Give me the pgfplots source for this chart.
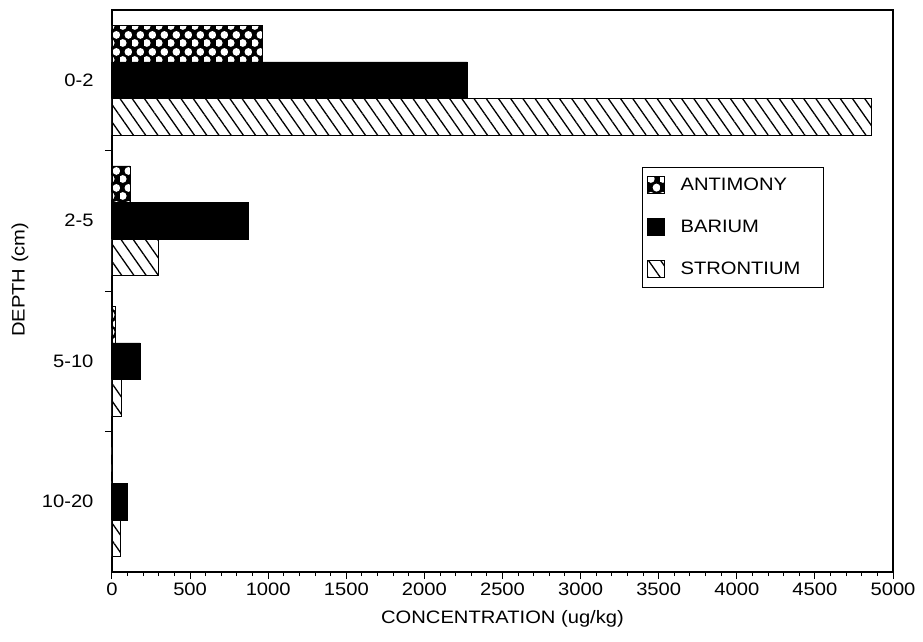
\documentclass[border=0pt]{standalone}
\usepackage{fontspec}
\setmainfont{Liberation Sans}[FakeStretch=1.12]
\usepackage{pgfplots}
\pgfplotsset{compat=1.18}
\usetikzlibrary{patterns,patterns.meta}
\pgfdeclarepatternformonly{whitedots}{\pgfqpoint{0pt}{0pt}}{\pgfqpoint{12pt}{17pt}}{\pgfqpoint{12pt}{17pt}}{%
  \pgfpathcircle{\pgfqpoint{3pt}{4.25pt}}{4.1pt}%
  \pgfpathcircle{\pgfqpoint{9pt}{12.75pt}}{4.1pt}%
  \pgfusepath{fill}%
}
\begin{document}
\begin{tikzpicture}[x=1pt,y=1pt]
\path (0,0) rectangle (923,642);
\begin{axis}[
  at={(112pt,70pt)}, anchor=south west,
  scale only axis, width=781pt, height=562pt,
  xbar, bar width=0.26,
  xmin=0, xmax=5000,
  ymin=-0.5, ymax=3.5, y dir=reverse,
  xtick={0,500,...,5000},
  minor x tick num=4,
  ytick={0.5,1.5,2.5},
  yticklabels={},
  extra y ticks={0,1,2,3},
  extra y tick labels={0-2,2-5,5-10,10-20},
  extra y tick style={major tick length=0pt},
  yticklabel style={xshift=-15pt},
  tick align=outside,
  xtick pos=bottom, ytick pos=left,
  major tick length=7pt, minor tick length=4pt,
  tick style={black, line width=1pt},
  axis line style={line width=1.2pt},
  font=\fontsize{18}{21}\selectfont,
  /pgf/number format/assume math mode=true,
  /pgf/number format/1000 sep={},
  xlabel={CONCENTRATION (ug/kg)},
  ylabel={DEPTH (cm)},
  xlabel style={at={(axis description cs:0.5,0)}, anchor=center, yshift=-47pt},
  ylabel style={at={(axis description cs:-0.118,0.52)}, anchor=center},
  legend style={at={(0.679,0.721)}, anchor=north west, draw=black, line width=1pt,
    font=\fontsize{18}{21}\selectfont, row sep=24pt, inner xsep=4pt, inner ysep=9pt,
    cells={anchor=west, text width=137pt, align=left}},
  every axis plot post/.append style={
    legend image code/.code={\draw[##1, line width=0.8pt] (0pt,-8.5pt) rectangle (17pt,8.5pt);
      \path (31pt,0pt);}},
]
\addplot[draw=black, line width=0.8pt, fill=black, bar shift=-0.26,
  postaction={pattern=whitedots, pattern color=white}]
  coordinates {(960,0) (115,1) (20,2) (5,3)};
\addlegendentry{ANTIMONY}
\addplot[draw=black, line width=0.8pt, fill=black, bar shift=0]
  coordinates {(2275,0) (875,1) (180,2) (100,3)};
\addlegendentry{BARIUM}
\addplot[draw=black, line width=0.8pt, fill=white, bar shift=0.26,
  postaction={pattern={Lines[angle=-55,distance=10pt,line width=1.3pt]}}]
  coordinates {(4860,0) (300,1) (62,2) (52,3)};
\addlegendentry{STRONTIUM}
\end{axis}
\end{tikzpicture}
\end{document}
